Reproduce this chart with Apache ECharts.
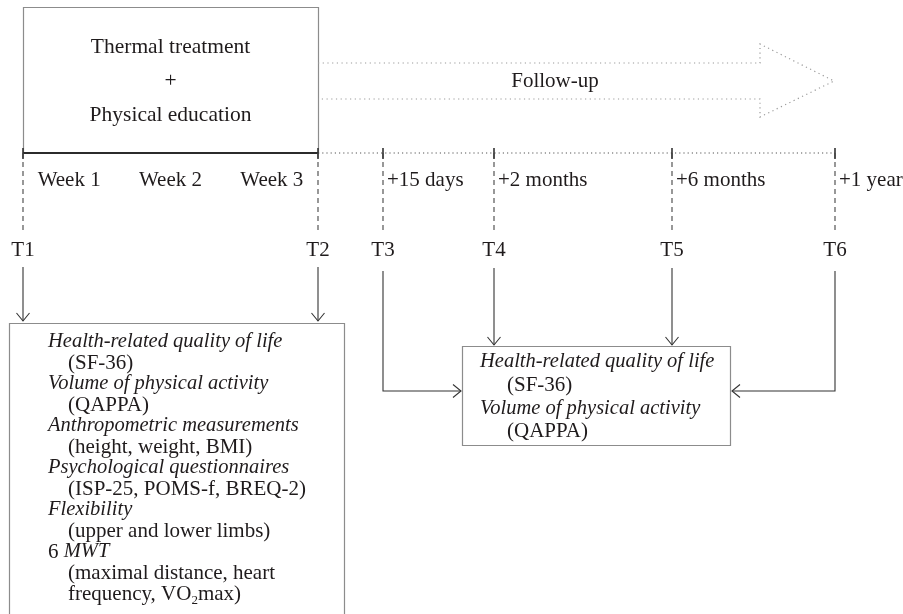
<!doctype html>
<html lang="en">
<head>
<meta charset="UTF-8">
<title>Study design</title>
<style>
    html, body { margin: 0; padding: 0; background: #fff; }
    #main { width: 903px; height: 614px; }
</style>
</head>
<body>
<div id="main"></div>
<script src="https://cdn.jsdelivr.net/npm/echarts@6/dist/echarts.min.js"></script>
<script>
// --- data ---
var phaseText = ['Thermal treatment', '+', 'Physical education'];
var weeks = ['Week 1', 'Week 2', 'Week 3'];
var timepoints = ['T1', 'T2', 'T3', 'T4', 'T5', 'T6'];
var timeX = [23, 318, 383, 494, 672, 835];   // place of each time point on the diagram axis
var followUps = ['+15 days', '+2 months', '+6 months', '+1 year'];
var followLabel = 'Follow-up';
var baselineMeasures = [
    ['{i|Health-related quality of life}', '(SF-36)'],
    ['{i|Volume of physical activity}', '(QAPPA)'],
    ['{i|Anthropometric measurements}', '(height, weight, BMI)'],
    ['{i|Psychological questionnaires}', '(ISP-25, POMS-f, BREQ-2)'],
    ['{i|Flexibility}', '(upper and lower limbs)'],
    ['6 {i|MWT}', '(maximal distance, heart', 'frequency, VO{s|2}max)']
];
var followMeasures = [
    ['{i|Health-related quality of life}', '(SF-36)'],
    ['{i|Volume of physical activity}', '(QAPPA)']
];

// --- layout ---
var FONT = '"Liberation Serif", "DejaVu Serif", serif';
var INK = '#1f1b1c';
var lineY = 153;
var topBox = { x1: 23, y1: 7, x2: 318, y2: 153 };
var leftBox = { x1: 9, y1: 323, x2: 344, y2: 640, textX: 48, indent: 20, firstY: 342, step: 21 };
var rightBox = { x1: 462, y1: 346, x2: 730, y2: 445, textX: 480, indent: 27, firstY: 362, step: 23.3 };
var band = { y1: 63, y2: 99, headX: 760, headY1: 44, headY2: 117, tipX: 834 };

var rich = {
    i: { fontFamily: '"Liberation Serif", serif', fontStyle: 'italic', fontSize: 20.5, color: INK },
    s: { fontFamily: '"Liberation Serif", serif', fontSize: 13, color: INK, verticalAlign: 'bottom', padding: [0, 0, -3, 0] }
};

var chart = echarts.init(document.getElementById('main'));

function label(p, text, align, extra) {
    return {
        type: 'text',
        style: Object.assign({
            x: p[0], y: p[1], text: text, fill: INK,
            font: '21px ' + FONT,
            align: align || 'center', verticalAlign: 'middle',
            rich: rich
        }, extra || {})
    };
}

function seg(a, b, style) {
    return { type: 'line', shape: { x1: a[0], y1: a[1], x2: b[0], y2: b[1] }, style: style };
}

function head(tip, dir) {
    // open V arrowhead; dir = [dx, dy] unit vector of travel
    var L = 8, W = 6.5;
    var bx = tip[0] - dir[0] * L, by = tip[1] - dir[1] * L;
    var nx = -dir[1] * W, ny = dir[0] * W;
    return {
        type: 'polyline',
        shape: { points: [[bx + nx, by + ny], tip, [bx - nx, by - ny]] },
        style: { stroke: '#333', lineWidth: 1.1, fill: null }
    };
}

function rectOf(api, b) {
    var a = api.coord([b.x1, b.y1]), c = api.coord([b.x2, b.y2]);
    return {
        type: 'rect',
        shape: { x: a[0] + 0.5, y: a[1] + 0.5, width: c[0] - a[0], height: c[1] - a[1] },
        style: { stroke: '#8c8c8c', lineWidth: 1.2, fill: null }
    };
}

function boxText(api, b, groups) {
    var out = [], row = 0;
    groups.forEach(function (g) {
        g.forEach(function (line, k) {
            var x = b.textX + (k > 0 ? b.indent : 0);
            out.push(label(api.coord([x, b.firstY + row * b.step]), line, 'left'));
            row++;
        });
    });
    return out;
}

var frameSeries = {
    type: 'custom',
    name: 'frame',
    silent: true,
    clip: false,
    data: [[0, 0]],
    renderItem: function (params, api) {
        var kids = [];
        kids.push(rectOf(api, topBox));
        kids.push(rectOf(api, leftBox));
        kids.push(rectOf(api, rightBox));
        phaseText.forEach(function (t, i) {
            kids.push(label(api.coord([(topBox.x1 + topBox.x2) / 2, 47 + i * 34]), t, 'center', { font: '21.5px ' + FONT }));
        });
        // solid treatment line and dotted follow-up line
        kids.push(seg(api.coord([timeX[0], lineY]), api.coord([timeX[1], lineY]), { stroke: '#2b2b2b', lineWidth: 2.2 }));
        kids.push(seg(api.coord([timeX[1], lineY]), api.coord([timeX[5], lineY]), { stroke: '#555', lineWidth: 1.2, lineDash: [1.2, 3] }));
        // follow-up arrow (dotted outline)
        var pts = [
            [topBox.x2, band.y1], [band.headX, band.y1], [band.headX, band.headY1],
            [band.tipX, (band.y1 + band.y2) / 2],
            [band.headX, band.headY2], [band.headX, band.y2], [topBox.x2, band.y2]
        ].map(function (p) { return api.coord(p); });
        kids.push({ type: 'polyline', shape: { points: pts }, style: { stroke: '#9a9a9a', lineWidth: 1.2, lineDash: [1.2, 3.5], fill: null } });
        kids.push(label(api.coord([555, (band.y1 + band.y2) / 2]), followLabel, 'center'));
        kids = kids.concat(boxText(api, leftBox, baselineMeasures));
        kids = kids.concat(boxText(api, rightBox, followMeasures));
        return { type: 'group', children: kids };
    }
};

var timeSeries = {
    type: 'custom',
    name: 'time points',
    silent: true,
    clip: false,
    data: timepoints.map(function (t, i) { return [timeX[i], i]; }),
    renderItem: function (params, api) {
        var i = params.dataIndex, x = api.value(0);
        var kids = [];
        var dark = { stroke: '#333', lineWidth: 1.1 };
        kids.push(seg(api.coord([x, lineY - 5]), api.coord([x, lineY + 6]), { stroke: '#333', lineWidth: 1.6 }));
        kids.push(seg(api.coord([x, lineY]), api.coord([x, 231]), { stroke: '#444', lineWidth: 1.1, lineDash: [5, 4] }));
        kids.push(label(api.coord([x, 250]), timepoints[i], 'center'));
        if (i < 2) {
            var tip = api.coord([x, leftBox.y1 - 2]);
            kids.push(seg(api.coord([x, 267]), tip, dark));
            kids.push(head(tip, [0, 1]));
        } else if (i === 3 || i === 4) {
            var tip2 = api.coord([x, rightBox.y1 - 1]);
            kids.push(seg(api.coord([x, 268]), tip2, dark));
            kids.push(head(tip2, [0, 1]));
        } else {
            var elbowY = 391;
            var tx = i === 2 ? rightBox.x1 - 1 : rightBox.x2 + 2;
            var pts = [api.coord([x, 271]), api.coord([x, elbowY]), api.coord([tx, elbowY])];
            kids.push({ type: 'polyline', shape: { points: pts }, style: { stroke: '#333', lineWidth: 1.1, fill: null } });
            kids.push(head(pts[2], [i === 2 ? 1 : -1, 0]));
        }
        return { type: 'group', children: kids };
    }
};

var textSeries = {
    type: 'custom',
    name: 'intervals',
    silent: true,
    clip: false,
    data: weeks.map(function (w, i) { return [i, 0]; }).concat(followUps.map(function (f, i) { return [i, 1]; })),
    renderItem: function (params, api) {
        var k = api.value(0), kind = api.value(1);
        if (kind === 0) {
            var step = (timeX[1] - timeX[0]) / weeks.length;
            return label(api.coord([timeX[0] + (k + 0.5) * step + (k - 1) * 3, 180]), weeks[k], 'center');
        }
        return label(api.coord([timeX[k + 2] + 4, 180]), followUps[k], 'left');
    }
};

var option = {
    animation: false,
    backgroundColor: '#ffffff',
    grid: { left: 0, right: 0, top: 0, bottom: 0 },
    xAxis: { type: 'value', min: 0, max: 903, show: false },
    yAxis: { type: 'value', min: 0, max: 614, inverse: true, show: false },
    series: [frameSeries, timeSeries, textSeries]
};

chart.setOption(option);
</script>
</body>
</html>
